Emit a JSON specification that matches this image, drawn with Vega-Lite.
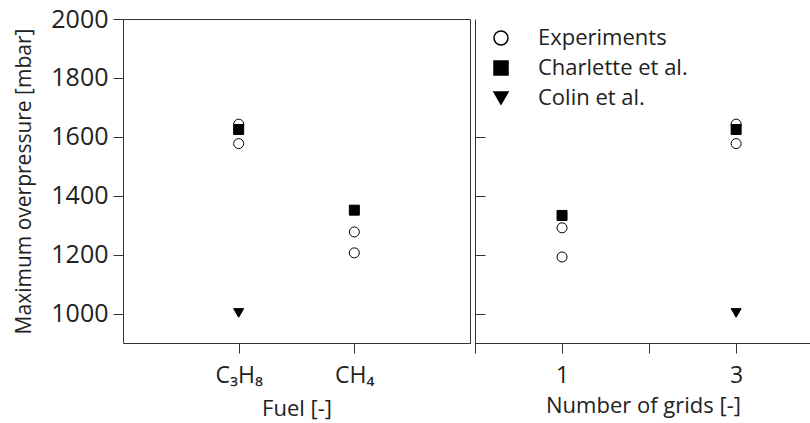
{
  "$schema": "https://vega.github.io/schema/vega-lite/v6.json",
  "padding": {"left": 13, "top": 6, "right": 0, "bottom": 0},
  "spacing": 3,
  "background": "white",
  "config": {
    "font": "Open Sans",
    "view": {"stroke": "#333", "strokeWidth": 1},
    "axis": {
      "grid": false,
      "labelFont": "Open Sans",
      "titleFont": "Open Sans",
      "labelFontSize": 23,
      "titleFontSize": 22,
      "titleFontWeight": "normal",
      "labelColor": "#222",
      "titleColor": "#222",
      "tickColor": "#333",
      "domainColor": "#333",
      "tickSize": 10
    },
    "legend": {
      "labelFont": "Open Sans",
      "labelFontSize": 22,
      "labelColor": "#222"
    }
  },
  "datasets": {
    "fuel": [
      {"fuel": "C3H8", "model": "Experiments", "p": 1643},
      {"fuel": "C3H8", "model": "Experiments", "p": 1577},
      {"fuel": "CH4", "model": "Experiments", "p": 1277},
      {"fuel": "CH4", "model": "Experiments", "p": 1206},
      {"fuel": "C3H8", "model": "Charlette et al.", "p": 1625},
      {"fuel": "CH4", "model": "Charlette et al.", "p": 1351},
      {"fuel": "C3H8", "model": "Colin et al.", "p": 1002}
    ],
    "grids": [
      {"grids": 1, "model": "Experiments", "p": 1291},
      {"grids": 1, "model": "Experiments", "p": 1192},
      {"grids": 3, "model": "Experiments", "p": 1643},
      {"grids": 3, "model": "Experiments", "p": 1577},
      {"grids": 1, "model": "Charlette et al.", "p": 1333},
      {"grids": 3, "model": "Charlette et al.", "p": 1625},
      {"grids": 3, "model": "Colin et al.", "p": 1002}
    ]
  },
  "resolve": {"scale": {"x": "independent", "y": "shared", "shape": "independent", "fill": "independent"}},
  "hconcat": [
    {
      "width": 347,
      "height": 324,
      "data": {"name": "fuel"},
      "mark": {"type": "point", "filled": true, "stroke": "black", "strokeWidth": 1, "opacity": 1, "size": 100},
      "encoding": {
        "x": {
          "field": "fuel",
          "type": "nominal",
          "sort": ["C3H8", "CH4"],
          "scale": {"type": "point", "padding": 1},
          "axis": {
            "title": "Fuel [-]",
            "labelAngle": 0,
            "domain": false,
            "labelPadding": 11,
            "titlePadding": 11,
            "labelExpr": "datum.value == 'C3H8' ? 'C₃H₈' : 'CH₄'"
          }
        },
        "y": {
          "field": "p",
          "type": "quantitative",
          "scale": {"domain": [900, 2000], "nice": false, "zero": false},
          "axis": {
            "title": "Maximum overpressure [mbar]",
            "titleFontSize": 21,
            "labelFontSize": 25,
            "format": "d",
            "values": [1000, 1200, 1400, 1600, 1800, 2000],
            "domain": false,
            "labelPadding": 5,
            "titlePadding": 16
          }
        },
        "shape": {
          "field": "model",
          "type": "nominal",
          "scale": {"domain": ["Experiments", "Charlette et al.", "Colin et al."], "range": ["circle", "square", "triangle-down"]},
          "legend": null
        },
        "fill": {
          "field": "model",
          "type": "nominal",
          "scale": {"domain": ["Experiments", "Charlette et al.", "Colin et al."], "range": ["white", "black", "black"]},
          "legend": null
        }
      }
    },
    {
      "width": 336,
      "height": 324,
      "view": {"stroke": null},
      "layer": [
        {
          "data": {"name": "grids"},
          "mark": {"type": "point", "filled": true, "stroke": "black", "strokeWidth": 1, "opacity": 1, "size": 100},
          "encoding": {
            "x": {
              "field": "grids",
              "type": "quantitative",
              "scale": {"domain": [0, 3.86], "nice": false, "zero": false},
              "axis": {
                "title": "Number of grids [-]",
                "values": [0, 1, 2, 3],
                "labelExpr": "datum.value == 1 || datum.value == 3 ? datum.label : ''",
                "labelPadding": 11,
                "titlePadding": 8
              }
            },
            "y": {
              "field": "p",
              "type": "quantitative",
              "axis": {
                "title": null,
                "labels": false,
                "values": [1000, 1200, 1400, 1600],
                "tickSize": -10
              }
            },
            "shape": {
              "field": "model",
              "type": "nominal",
              "scale": {"domain": ["Experiments", "Charlette et al.", "Colin et al."], "range": ["circle", "square", "triangle-down"]},
              "legend": {
                "title": null,
                "orient": "none",
                "legendX": 15,
                "legendY": 8,
                "padding": 0,
                "symbolSize": 196,
                "labelOffset": 26,
                "rowPadding": 8,
                "encode": {
                  "symbols": {
                    "update": {
                      "stroke": {"value": "black"},
                      "strokeWidth": {"value": 1},
                      "size": {"value": 196}
                    }
                  }
                }
              }
            },
            "fill": {
              "field": "model",
              "type": "nominal",
              "scale": {"domain": ["Experiments", "Charlette et al.", "Colin et al."], "range": ["white", "black", "black"]}
            }
          }
        },
        {
          "mark": {"type": "rule", "color": "#333", "strokeWidth": 1},
          "encoding": {"y": {"datum": 2000}}
        }
      ]
    }
  ]
}
